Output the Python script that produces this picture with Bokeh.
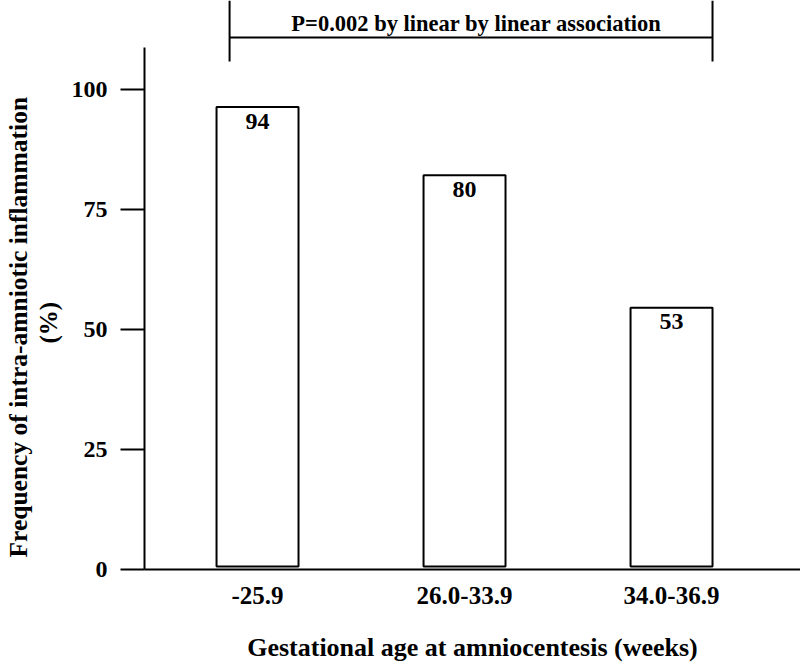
from bokeh.plotting import figure
from bokeh.models import FixedTicker, Title
from bokeh.core.properties import value
from bokeh.embed import file_html
from bokeh.resources import INLINE

# ---- data ----
categories = ["-25.9", "26.0-33.9", "34.0-36.9"]
percent_labels = [94, 80, 53]
bar_heights = [96.3, 82.1, 54.5]          # visual bar tops
y_ticks = [0, 25, 50, 75, 100]
p_text = "P=0.002 by linear by linear association"
x_title = "Gestational age at amniocentesis (weeks)"
y_title_1 = "Frequency of intra-amniotic inflammation"
y_title_2 = "(%)"

positions = [1, 2, 3]
FONT = "Liberation Serif"

p = figure(width=800, height=664, output_backend="svg", toolbar_location=None,
           x_range=(0.454, 3.623), y_range=(0, 118.5),
           min_border_left=144, min_border_right=0, min_border_top=0,
           min_border_bottom=94)
p.outline_line_color = None
p.xgrid.visible = False
p.ygrid.visible = False
p.background_fill_color = "white"

# y axis
ya = p.yaxis[0]
ya.ticker = FixedTicker(ticks=y_ticks)
ya.bounds = (0, 108.7)
ya.major_tick_out = 24
ya.major_tick_in = 0
ya.minor_tick_out = 0
ya.minor_tick_in = 0
ya.axis_line_width = 2
ya.major_tick_line_width = 2
ya.major_label_standoff = 13
ya.major_label_text_font = FONT
ya.major_label_text_font_style = "bold"
ya.major_label_text_font_size = "24px"
ya.major_label_text_color = "black"

# x axis
xa = p.xaxis[0]
xa.ticker = FixedTicker(ticks=positions)
xa.major_label_overrides = {pos: c for pos, c in zip(positions, categories)}
xa.major_tick_out = 0
xa.major_tick_in = 0
xa.minor_tick_out = 0
xa.minor_tick_in = 0
xa.axis_line_width = 2
xa.major_label_standoff = 17
xa.major_label_text_font = FONT
xa.major_label_text_font_style = "bold"
xa.major_label_text_font_size = "25px"
xa.major_label_text_color = "black"
xa.axis_label = x_title
xa.axis_label_text_font = FONT
xa.axis_label_text_font_style = "bold"
xa.axis_label_text_font_size = "26px"
xa.axis_label_text_color = "black"
xa.axis_label_standoff = 26

# y axis title, two rotated lines (with a small blank spacer next to the axis)
p.add_layout(Title(text=" ", standoff=0, text_font=FONT,
                   text_font_size="5px"), "left")
p.add_layout(Title(text=y_title_2, align="left", offset=226, standoff=0,
                   text_font=FONT, text_font_style="bold",
                   text_font_size="25px", text_color="black"), "left")
p.add_layout(Title(text=y_title_1, align="left", offset=12, standoff=0,
                   text_font=FONT, text_font_style="bold",
                   text_font_size="25.5px", text_color="black"), "left")

# bars
p.vbar(x=positions, top=bar_heights, bottom=0.6, width=0.396,
       fill_color="white", line_color="black", line_width=2)

# value labels
p.text(x=positions, y=bar_heights, text=[str(v) for v in percent_labels],
       text_align="center", text_baseline="middle", y_offset=14,
       text_font=value(FONT), text_font_style="bold", text_font_size="24px",
       text_color="black")

# significance bracket
br_left, br_right, br_y = 0.865, 3.198, 110.8
p.segment(x0=[br_left, br_left, br_right], y0=[br_y, 105.8, 105.8],
          x1=[br_right, br_left, br_right], y1=[br_y, 118.5, 118.5],
          line_color="black", line_width=2)
p.text(x=[2.058], y=[br_y], text=[p_text], text_align="center",
       text_baseline="bottom", y_offset=-1,
       text_font=value(FONT), text_font_style="bold", text_font_size="22.5px",
       text_color="black")

open("out.html", "w").write(file_html(p, INLINE))
